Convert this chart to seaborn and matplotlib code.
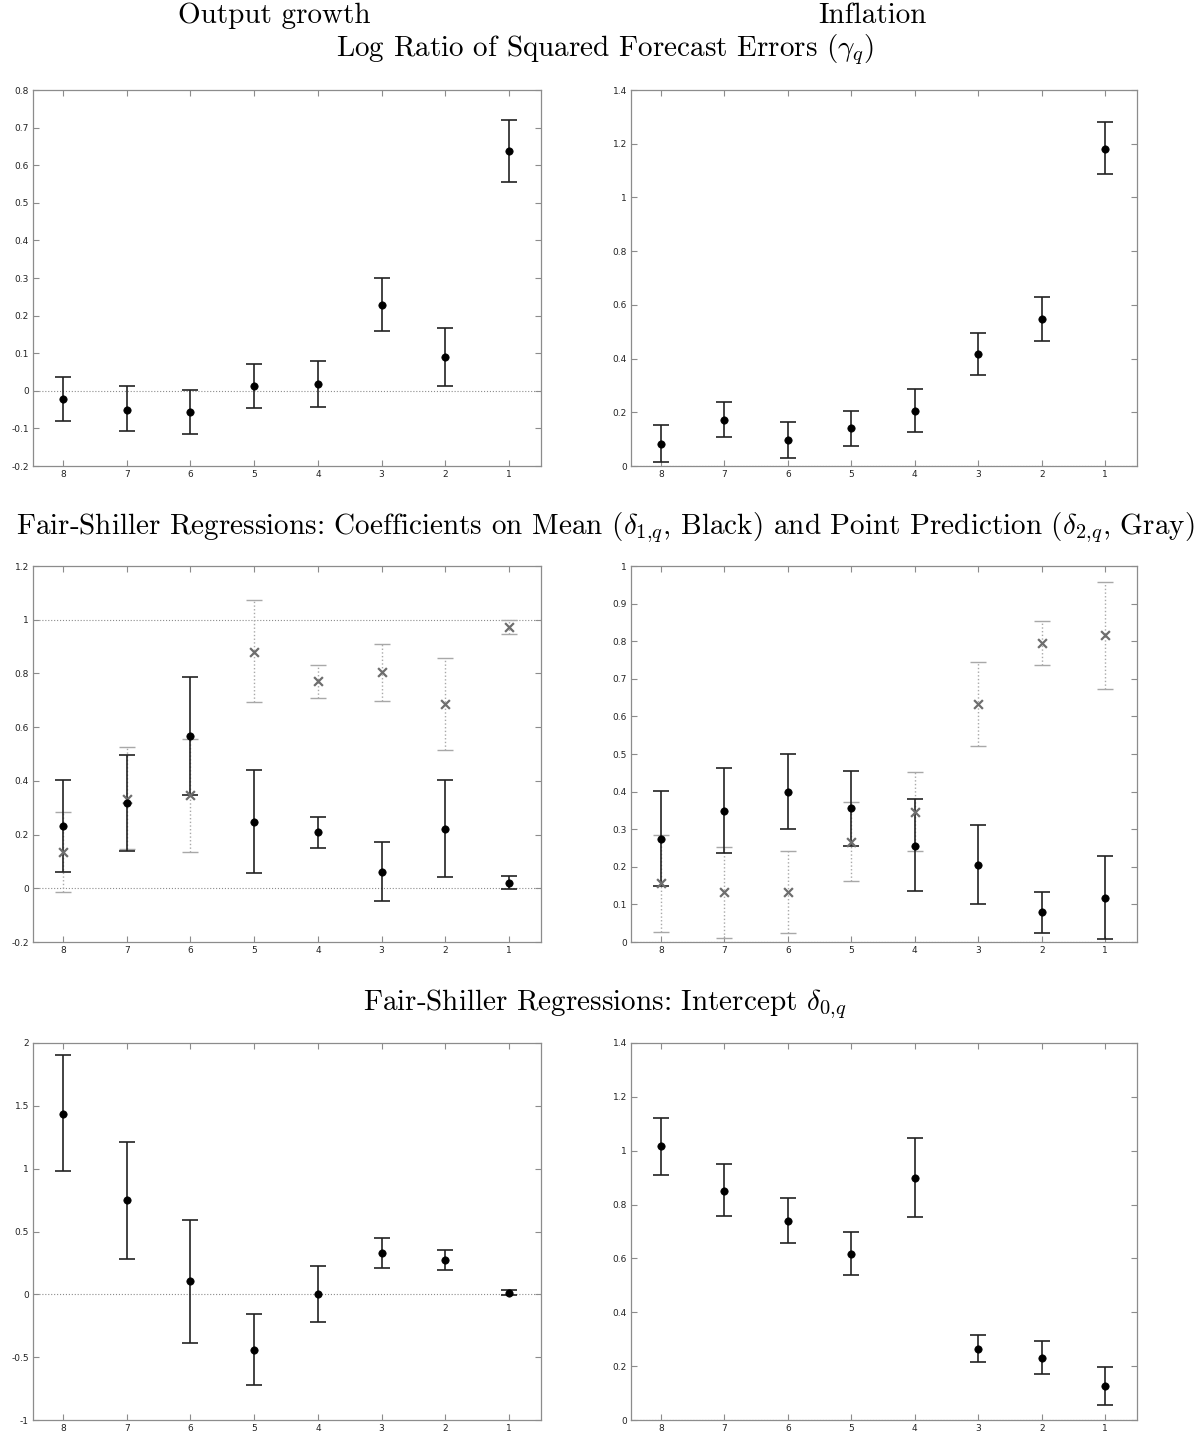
import matplotlib.pyplot as plt
from matplotlib.ticker import FuncFormatter, MultipleLocator
import numpy as np
import seaborn as sns

sns.set_theme(style="white")
plt.rcParams["mathtext.fontset"] = "cm"
plt.rcParams["axes.unicode_minus"] = False

horizon = [8, 7, 6, 5, 4, 3, 2, 1]

# log ratio of squared forecast errors (gamma_q)
gam_out = [-0.023, -0.050, -0.057, 0.012, 0.017, 0.228, 0.091, 0.637]
gam_out_lo = [-0.080, -0.108, -0.115, -0.047, -0.043, 0.158, 0.013, 0.556]
gam_out_hi = [0.036, 0.012, 0.002, 0.070, 0.080, 0.299, 0.168, 0.720]

gam_inf = [0.082, 0.173, 0.097, 0.140, 0.204, 0.418, 0.546, 1.181]
gam_inf_lo = [0.015, 0.107, 0.028, 0.074, 0.125, 0.340, 0.466, 1.086]
gam_inf_hi = [0.154, 0.240, 0.165, 0.206, 0.287, 0.496, 0.631, 1.279]

# Fair-Shiller: coefficient on mean (delta_1, black)
d1_out = [0.231, 0.317, 0.568, 0.248, 0.209, 0.062, 0.222, 0.020]
d1_out_lo = [0.062, 0.139, 0.347, 0.056, 0.151, -0.046, 0.043, -0.002]
d1_out_hi = [0.405, 0.497, 0.787, 0.439, 0.264, 0.171, 0.405, 0.047]

d1_inf = [0.275, 0.349, 0.399, 0.356, 0.256, 0.204, 0.079, 0.118]
d1_inf_lo = [0.148, 0.237, 0.300, 0.255, 0.135, 0.100, 0.025, 0.007]
d1_inf_hi = [0.402, 0.462, 0.499, 0.456, 0.380, 0.311, 0.134, 0.229]

# Fair-Shiller: coefficient on point prediction (delta_2, gray)
d2_out = [0.136, 0.334, 0.347, 0.881, 0.770, 0.804, 0.687, 0.974]
d2_out_lo = [-0.015, 0.145, 0.134, 0.693, 0.709, 0.697, 0.514, 0.948]
d2_out_hi = [0.285, 0.525, 0.557, 1.072, 0.832, 0.910, 0.859, 0.999]

d2_inf = [0.157, 0.132, 0.132, 0.266, 0.346, 0.634, 0.795, 0.816]
d2_inf_lo = [0.027, 0.010, 0.025, 0.161, 0.241, 0.521, 0.738, 0.673]
d2_inf_hi = [0.284, 0.253, 0.241, 0.372, 0.452, 0.745, 0.853, 0.958]

# Fair-Shiller: intercept (delta_0)
d0_out = [1.436, 0.749, 0.104, -0.441, 0.003, 0.327, 0.273, 0.011]
d0_out_lo = [0.980, 0.281, -0.388, -0.719, -0.218, 0.210, 0.196, -0.008]
d0_out_hi = [1.901, 1.216, 0.592, -0.157, 0.226, 0.449, 0.353, 0.032]

d0_inf = [1.017, 0.851, 0.740, 0.617, 0.899, 0.263, 0.231, 0.126]
d0_inf_lo = [0.910, 0.756, 0.658, 0.539, 0.753, 0.214, 0.169, 0.056]
d0_inf_hi = [1.123, 0.950, 0.825, 0.699, 1.049, 0.315, 0.293, 0.198]

W, H = 1198, 1441
fig = plt.figure(figsize=(W / 100, H / 100), dpi=100)


def make_ax(x0, y0, x1, y1):
    ax = fig.add_axes([x0 / W, 1 - y1 / H, (x1 - x0) / W, (y1 - y0) / H])
    for s in ax.spines.values():
        s.set_color("#8c8c8c")
        s.set_linewidth(0.9)
    ax.tick_params(direction="in", length=4, width=0.8, color="#8c8c8c",
                   labelsize=6.5, labelcolor="#222222", top=True, right=True,
                   bottom=True, left=True, pad=3)
    ax.set_xlim(8.47, 0.5)
    ax.set_xticks(horizon)
    ax.xaxis.set_major_formatter(FuncFormatter(lambda v, p: f"{v:g}"))
    ax.yaxis.set_major_formatter(FuncFormatter(lambda v, p: f"{round(v, 4):g}"))
    return ax


def black_bars(ax, est, lo, hi):
    est, lo, hi = np.array(est), np.array(lo), np.array(hi)
    ax.errorbar(horizon, est, yerr=[est - lo, hi - est], fmt="none",
                ecolor="#222222", elinewidth=1.2, capsize=5.5, capthick=1.2, zorder=3)
    sns.scatterplot(x=horizon, y=est, color="black", s=28, edgecolor="black",
                    linewidth=0.5, ax=ax, zorder=4, legend=False)


def gray_bars(ax, est, lo, hi):
    est, lo, hi = np.array(est), np.array(lo), np.array(hi)
    eb = ax.errorbar(horizon, est, yerr=[est - lo, hi - est], fmt="none",
                     ecolor="#a8a8a8", elinewidth=1.0, capsize=5.5, capthick=1.0, zorder=2)
    eb.lines[2][0].set_linestyle(":")
    sns.scatterplot(x=horizon, y=est, color="#6e6e6e", marker="x", s=40,
                    linewidth=1.6, ax=ax, zorder=4, legend=False)


def ref_line(ax, y):
    ax.axhline(y, color="#8c8c8c", ls=":", lw=0.8, zorder=1)


LX0, LX1, RX0, RX1 = 33, 541, 631, 1137

# row 1
ax = make_ax(LX0, 90, LX1, 466)
ref_line(ax, 0)
black_bars(ax, gam_out, gam_out_lo, gam_out_hi)
ax.set_ylim(-0.2, 0.8)
ax.yaxis.set_major_locator(MultipleLocator(0.1))

ax = make_ax(RX0, 90, RX1, 466)
ref_line(ax, 0)
black_bars(ax, gam_inf, gam_inf_lo, gam_inf_hi)
ax.set_ylim(0, 1.4)
ax.yaxis.set_major_locator(MultipleLocator(0.2))

# row 2
ax = make_ax(LX0, 566, LX1, 942)
ref_line(ax, 0)
ref_line(ax, 1)
gray_bars(ax, d2_out, d2_out_lo, d2_out_hi)
black_bars(ax, d1_out, d1_out_lo, d1_out_hi)
ax.set_ylim(-0.2, 1.2)
ax.yaxis.set_major_locator(MultipleLocator(0.2))

ax = make_ax(RX0, 566, RX1, 942)
ref_line(ax, 0)
gray_bars(ax, d2_inf, d2_inf_lo, d2_inf_hi)
black_bars(ax, d1_inf, d1_inf_lo, d1_inf_hi)
ax.set_ylim(0, 1)
ax.yaxis.set_major_locator(MultipleLocator(0.1))

# row 3
ax = make_ax(LX0, 1043, LX1, 1420)
ref_line(ax, 0)
black_bars(ax, d0_out, d0_out_lo, d0_out_hi)
ax.set_ylim(-1, 2)
ax.yaxis.set_major_locator(MultipleLocator(0.5))

ax = make_ax(RX0, 1043, RX1, 1420)
ref_line(ax, 0)
black_bars(ax, d0_inf, d0_inf_lo, d0_inf_hi)
ax.set_ylim(0, 1.4)
ax.yaxis.set_major_locator(MultipleLocator(0.2))

tkw = dict(family="cmr10", fontsize=21, color="black", ha="center", va="center")
fig.text(274 / W, 1 - 16 / H, "Output growth", **tkw)
fig.text(872 / W, 1 - 16 / H, "Inflation", **tkw)
fig.text(605 / W, 1 - 50 / H, r"Log Ratio of Squared Forecast Errors $(\gamma_q)$", **tkw)
fig.text(605 / W, 1 - 528 / H,
         r"Fair-Shiller Regressions: Coefficients on Mean $(\delta_{1{,}q}$, Black) and Point Prediction $(\delta_{2{,}q}$, Gray)",
         **tkw)
fig.text(605 / W, 1 - 1004 / H, r"Fair-Shiller Regressions: Intercept $\delta_{0{,}q}$", **tkw)

fig.savefig("out.png", dpi=100, facecolor="white")
